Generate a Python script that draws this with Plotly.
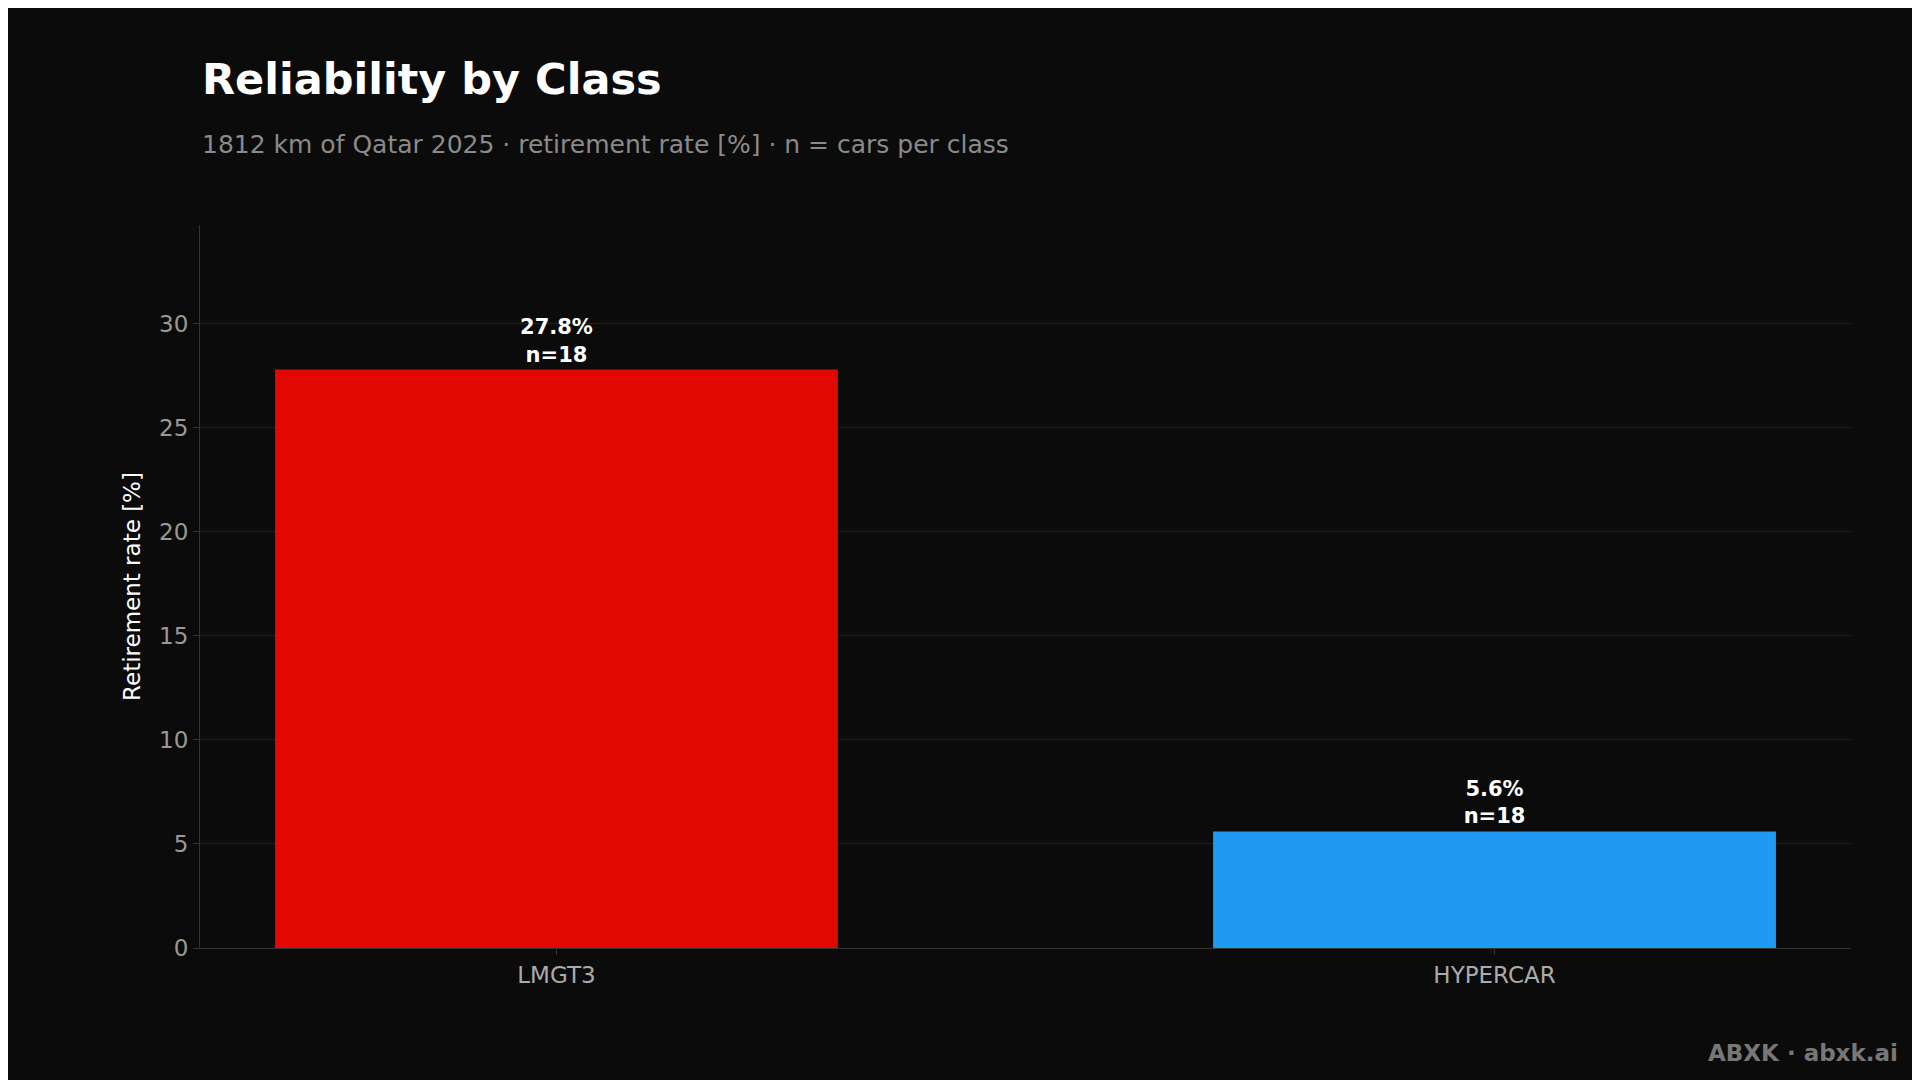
import plotly.graph_objects as go

classes = ["LMGT3", "HYPERCAR"]
rates = [27.8, 5.6]
counts = [18, 18]
colors = ["#e00800", "#1e9bf0"]

labels = [f"<b>{r:.1f}%<br>n={n}</b>" for r, n in zip(rates, counts)]

L, R, T, B = 192, 1843, 217, 940
def px(x): return (x - L) / (R - L)
def py(y): return (B - y) / (B - T)

fig = go.Figure(go.Bar(
    x=[0, 1], y=rates, marker=dict(color=colors, line=dict(width=0)), width=0.6,
    text=labels, textposition="outside", textfont=dict(color="white", size=21),
    cliponaxis=False,
))
F = "DejaVu Sans"
fig.update_layout(
    width=1920, height=1080, paper_bgcolor="#0b0b0b", plot_bgcolor="#0b0b0b",
    font=dict(family=F, color="#999999"),
    margin=dict(l=L, r=1920 - R, t=T, b=1080 - B, pad=0),
    showlegend=False,
    xaxis=dict(range=[-0.38, 1.38], tickvals=[0, 1], ticktext=classes,
               tickfont=dict(size=23, color="#aaaaaa"), showgrid=False, zeroline=False,
               showline=True, linecolor="#333333", ticks="outside", ticklen=6, tickcolor="#333333"),
    yaxis=dict(range=[0, 34.75], tickvals=[0, 5, 10, 15, 20, 25, 30],
               tickfont=dict(size=23, color="#999999"), gridcolor="#1f1f1f", zeroline=False,
               showline=True, linecolor="#333333", ticks="outside", ticklen=6, tickcolor="#333333",
               title=dict(text="Retirement rate [%]", font=dict(size=23, color="white"), standoff=12)),
    annotations=[
        dict(text="<b>Reliability by Class</b>", x=px(192), y=py(71), xref="paper", yref="paper",
             xanchor="left", yanchor="middle", showarrow=False, font=dict(size=43, color="white", family=F)),
        dict(text="1812 km of Qatar 2025 · retirement rate [%] · n = cars per class", x=px(192), y=py(137),
             xref="paper", yref="paper", xanchor="left", yanchor="middle", showarrow=False,
             font=dict(size=25, color="#8a8a8a", family=F)),
        dict(text="<b>ABXK · abxk.ai</b>", x=px(1892), y=py(1045), xref="paper", yref="paper",
             xanchor="right", yanchor="middle", showarrow=False, font=dict(size=23, color="#777777", family=F)),
    ],
)
fig.write_html("out.html")
